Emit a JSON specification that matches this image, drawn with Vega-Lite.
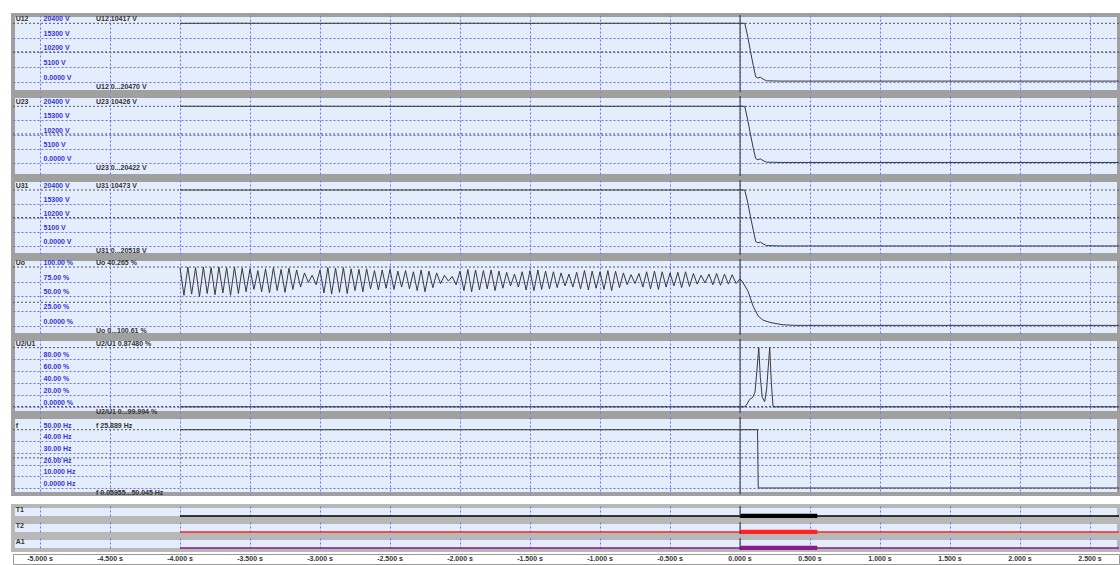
{
  "$schema": "https://vega.github.io/schema/vega-lite/v6.json",
  "background": "white",
  "padding": {"left": 10, "top": 12, "right": 0, "bottom": 0},
  "spacing": 4,
  "vconcat": [
    {
      "bounds": "flush",
      "spacing": 4,
      "vconcat": [
        {
          "height": 77, "width": 1106,
          "layer": [
            {"data": {"name": "ln"}, "transform": [{"filter": "datum.p==='U12'"}],
             "mark": {"type": "rule", "color": "#555555", "strokeDash": [2, 2]},
             "encoding": {"y": {"field": "v", "type": "quantitative", "scale": {"domain": [-3600, 23300], "nice": false, "zero": false}, "axis": {"values": [0, 5100, 10200, 15300]}}}},
            {"data": {"name": "tr"}, "transform": [{"filter": "datum.p==='U12'"}],
             "mark": {"type": "line", "color": "#3a3a3a", "strokeWidth": 1, "clip": true},
             "encoding": {"x": {"field": "t", "type": "quantitative", "scale": {"domain": [-5.193, 2.707], "nice": false, "zero": false}, "axis": {"values": [-5, -4.5, -4, -3.5, -3, -2.5, -2, -1.5, -1, -0.5, 0, 0.5, 1, 1.5, 2, 2.5]}},
                          "y": {"field": "v", "type": "quantitative", "scale": {"domain": [-3600, 23300], "nice": false, "zero": false}, "axis": {"values": [0, 5100, 10200, 15300]}}}},
            {"data": {"name": "cur"}, "mark": {"type": "rule", "color": "#333333"},
             "encoding": {"x": {"field": "t", "type": "quantitative", "scale": {"domain": [-5.193, 2.707], "nice": false, "zero": false}, "axis": {"values": [-5, -4.5, -4, -3.5, -3, -2.5, -2, -1.5, -1, -0.5, 0, 0.5, 1, 1.5, 2, 2.5]}}}},
            {"data": {"name": "lab"}, "transform": [{"filter": "datum.p==='U12' && datum.k!=='rng'"}],
             "mark": {"type": "text", "align": "left", "baseline": "bottom", "dy": -1},
             "encoding": {"x": {"field": "t", "type": "quantitative", "scale": {"domain": [-5.193, 2.707], "nice": false, "zero": false}, "axis": {"values": [-5, -4.5, -4, -3.5, -3, -2.5, -2, -1.5, -1, -0.5, 0, 0.5, 1, 1.5, 2, 2.5]}},
                          "y": {"field": "v", "type": "quantitative", "scale": {"domain": [-3600, 23300], "nice": false, "zero": false}, "axis": {"values": [0, 5100, 10200, 15300]}},
                          "text": {"field": "s"},
                          "color": {"field": "k", "type": "nominal", "scale": {"domain": ["name", "tick", "info", "rng"], "range": ["#333333", "#3535d5", "#333333", "#333333"]}, "legend": null}}},
            {"data": {"name": "lab"}, "transform": [{"filter": "datum.p==='U12' && datum.k==='rng'"}],
             "mark": {"type": "text", "align": "left", "baseline": "top", "dy": 1, "color": "#333333"},
             "encoding": {"x": {"field": "t", "type": "quantitative", "scale": {"domain": [-5.193, 2.707], "nice": false, "zero": false}, "axis": {"values": [-5, -4.5, -4, -3.5, -3, -2.5, -2, -1.5, -1, -0.5, 0, 0.5, 1, 1.5, 2, 2.5]}},
                          "y": {"field": "v", "type": "quantitative", "scale": {"domain": [-3600, 23300], "nice": false, "zero": false}, "axis": {"values": [0, 5100, 10200, 15300]}},
                          "text": {"field": "s"}}}
          ]
        },
        {
          "height": 80, "width": 1106,
          "layer": [
            {"data": {"name": "ln"}, "transform": [{"filter": "datum.p==='U23'"}],
             "mark": {"type": "rule", "color": "#555555", "strokeDash": [2, 2]},
             "encoding": {"y": {"field": "v", "type": "quantitative", "scale": {"domain": [-4677, 24106], "nice": false, "zero": false}, "axis": {"values": [0, 5100, 10200, 15300]}}}},
            {"data": {"name": "tr"}, "transform": [{"filter": "datum.p==='U23'"}],
             "mark": {"type": "line", "color": "#3a3a3a", "strokeWidth": 1, "clip": true},
             "encoding": {"x": {"field": "t", "type": "quantitative", "scale": {"domain": [-5.193, 2.707], "nice": false, "zero": false}, "axis": {"values": [-5, -4.5, -4, -3.5, -3, -2.5, -2, -1.5, -1, -0.5, 0, 0.5, 1, 1.5, 2, 2.5]}},
                          "y": {"field": "v", "type": "quantitative", "scale": {"domain": [-4677, 24106], "nice": false, "zero": false}, "axis": {"values": [0, 5100, 10200, 15300]}}}},
            {"data": {"name": "cur"}, "mark": {"type": "rule", "color": "#333333"},
             "encoding": {"x": {"field": "t", "type": "quantitative", "scale": {"domain": [-5.193, 2.707], "nice": false, "zero": false}, "axis": {"values": [-5, -4.5, -4, -3.5, -3, -2.5, -2, -1.5, -1, -0.5, 0, 0.5, 1, 1.5, 2, 2.5]}}}},
            {"data": {"name": "lab"}, "transform": [{"filter": "datum.p==='U23' && datum.k!=='rng'"}],
             "mark": {"type": "text", "align": "left", "baseline": "bottom", "dy": -1},
             "encoding": {"x": {"field": "t", "type": "quantitative", "scale": {"domain": [-5.193, 2.707], "nice": false, "zero": false}, "axis": {"values": [-5, -4.5, -4, -3.5, -3, -2.5, -2, -1.5, -1, -0.5, 0, 0.5, 1, 1.5, 2, 2.5]}},
                          "y": {"field": "v", "type": "quantitative", "scale": {"domain": [-4677, 24106], "nice": false, "zero": false}, "axis": {"values": [0, 5100, 10200, 15300]}},
                          "text": {"field": "s"},
                          "color": {"field": "k", "type": "nominal", "scale": {"domain": ["name", "tick", "info", "rng"], "range": ["#333333", "#3535d5", "#333333", "#333333"]}, "legend": null}}},
            {"data": {"name": "lab"}, "transform": [{"filter": "datum.p==='U23' && datum.k==='rng'"}],
             "mark": {"type": "text", "align": "left", "baseline": "top", "dy": 1, "color": "#333333"},
             "encoding": {"x": {"field": "t", "type": "quantitative", "scale": {"domain": [-5.193, 2.707], "nice": false, "zero": false}, "axis": {"values": [-5, -4.5, -4, -3.5, -3, -2.5, -2, -1.5, -1, -0.5, 0, 0.5, 1, 1.5, 2, 2.5]}},
                          "y": {"field": "v", "type": "quantitative", "scale": {"domain": [-4677, 24106], "nice": false, "zero": false}, "axis": {"values": [0, 5100, 10200, 15300]}},
                          "text": {"field": "s"}}}
          ]
        },
        {
          "height": 75, "width": 1106,
          "layer": [
            {"data": {"name": "ln"}, "transform": [{"filter": "datum.p==='U31'"}],
             "mark": {"type": "rule", "color": "#555555", "strokeDash": [2, 2]},
             "encoding": {"y": {"field": "v", "type": "quantitative", "scale": {"domain": [-3069, 24010], "nice": false, "zero": false}, "axis": {"values": [0, 5100, 10200, 15300]}}}},
            {"data": {"name": "tr"}, "transform": [{"filter": "datum.p==='U31'"}],
             "mark": {"type": "line", "color": "#3a3a3a", "strokeWidth": 1, "clip": true},
             "encoding": {"x": {"field": "t", "type": "quantitative", "scale": {"domain": [-5.193, 2.707], "nice": false, "zero": false}, "axis": {"values": [-5, -4.5, -4, -3.5, -3, -2.5, -2, -1.5, -1, -0.5, 0, 0.5, 1, 1.5, 2, 2.5]}},
                          "y": {"field": "v", "type": "quantitative", "scale": {"domain": [-3069, 24010], "nice": false, "zero": false}, "axis": {"values": [0, 5100, 10200, 15300]}}}},
            {"data": {"name": "cur"}, "mark": {"type": "rule", "color": "#333333"},
             "encoding": {"x": {"field": "t", "type": "quantitative", "scale": {"domain": [-5.193, 2.707], "nice": false, "zero": false}, "axis": {"values": [-5, -4.5, -4, -3.5, -3, -2.5, -2, -1.5, -1, -0.5, 0, 0.5, 1, 1.5, 2, 2.5]}}}},
            {"data": {"name": "lab"}, "transform": [{"filter": "datum.p==='U31' && datum.k!=='rng'"}],
             "mark": {"type": "text", "align": "left", "baseline": "bottom", "dy": -1},
             "encoding": {"x": {"field": "t", "type": "quantitative", "scale": {"domain": [-5.193, 2.707], "nice": false, "zero": false}, "axis": {"values": [-5, -4.5, -4, -3.5, -3, -2.5, -2, -1.5, -1, -0.5, 0, 0.5, 1, 1.5, 2, 2.5]}},
                          "y": {"field": "v", "type": "quantitative", "scale": {"domain": [-3069, 24010], "nice": false, "zero": false}, "axis": {"values": [0, 5100, 10200, 15300]}},
                          "text": {"field": "s"},
                          "color": {"field": "k", "type": "nominal", "scale": {"domain": ["name", "tick", "info", "rng"], "range": ["#333333", "#3535d5", "#333333", "#333333"]}, "legend": null}}},
            {"data": {"name": "lab"}, "transform": [{"filter": "datum.p==='U31' && datum.k==='rng'"}],
             "mark": {"type": "text", "align": "left", "baseline": "top", "dy": 1, "color": "#333333"},
             "encoding": {"x": {"field": "t", "type": "quantitative", "scale": {"domain": [-5.193, 2.707], "nice": false, "zero": false}, "axis": {"values": [-5, -4.5, -4, -3.5, -3, -2.5, -2, -1.5, -1, -0.5, 0, 0.5, 1, 1.5, 2, 2.5]}},
                          "y": {"field": "v", "type": "quantitative", "scale": {"domain": [-3069, 24010], "nice": false, "zero": false}, "axis": {"values": [0, 5100, 10200, 15300]}},
                          "text": {"field": "s"}}}
          ]
        },
        {
          "height": 76, "width": 1106,
          "layer": [
            {"data": {"name": "ln"}, "transform": [{"filter": "datum.p==='Uo'"}],
             "mark": {"type": "rule", "color": "#555555", "strokeDash": [2, 2]},
             "encoding": {"y": {"field": "v", "type": "quantitative", "scale": {"domain": [-15.3, 113.6], "nice": false, "zero": false}, "axis": {"values": [0, 25, 50, 75]}}}},
            {"data": {"name": "tr"}, "transform": [{"filter": "datum.p==='Uo'"}],
             "mark": {"type": "line", "color": "#3a3a3a", "strokeWidth": 1, "clip": true},
             "encoding": {"x": {"field": "t", "type": "quantitative", "scale": {"domain": [-5.193, 2.707], "nice": false, "zero": false}, "axis": {"values": [-5, -4.5, -4, -3.5, -3, -2.5, -2, -1.5, -1, -0.5, 0, 0.5, 1, 1.5, 2, 2.5]}},
                          "y": {"field": "v", "type": "quantitative", "scale": {"domain": [-15.3, 113.6], "nice": false, "zero": false}, "axis": {"values": [0, 25, 50, 75]}}}},
            {"data": {"name": "cur"}, "mark": {"type": "rule", "color": "#333333"},
             "encoding": {"x": {"field": "t", "type": "quantitative", "scale": {"domain": [-5.193, 2.707], "nice": false, "zero": false}, "axis": {"values": [-5, -4.5, -4, -3.5, -3, -2.5, -2, -1.5, -1, -0.5, 0, 0.5, 1, 1.5, 2, 2.5]}}}},
            {"data": {"name": "lab"}, "transform": [{"filter": "datum.p==='Uo' && datum.k!=='rng'"}],
             "mark": {"type": "text", "align": "left", "baseline": "bottom", "dy": -1},
             "encoding": {"x": {"field": "t", "type": "quantitative", "scale": {"domain": [-5.193, 2.707], "nice": false, "zero": false}, "axis": {"values": [-5, -4.5, -4, -3.5, -3, -2.5, -2, -1.5, -1, -0.5, 0, 0.5, 1, 1.5, 2, 2.5]}},
                          "y": {"field": "v", "type": "quantitative", "scale": {"domain": [-15.3, 113.6], "nice": false, "zero": false}, "axis": {"values": [0, 25, 50, 75]}},
                          "text": {"field": "s"},
                          "color": {"field": "k", "type": "nominal", "scale": {"domain": ["name", "tick", "info", "rng"], "range": ["#333333", "#3535d5", "#333333", "#333333"]}, "legend": null}}},
            {"data": {"name": "lab"}, "transform": [{"filter": "datum.p==='Uo' && datum.k==='rng'"}],
             "mark": {"type": "text", "align": "left", "baseline": "top", "dy": 1, "color": "#333333"},
             "encoding": {"x": {"field": "t", "type": "quantitative", "scale": {"domain": [-5.193, 2.707], "nice": false, "zero": false}, "axis": {"values": [-5, -4.5, -4, -3.5, -3, -2.5, -2, -1.5, -1, -0.5, 0, 0.5, 1, 1.5, 2, 2.5]}},
                          "y": {"field": "v", "type": "quantitative", "scale": {"domain": [-15.3, 113.6], "nice": false, "zero": false}, "axis": {"values": [0, 25, 50, 75]}},
                          "text": {"field": "s"}}}
          ]
        },
        {
          "height": 74, "width": 1106,
          "layer": [
            {"data": {"name": "ln"}, "transform": [{"filter": "datum.p==='U2/U1'"}],
             "mark": {"type": "rule", "color": "#555555", "strokeDash": [2, 2]},
             "encoding": {"y": {"field": "v", "type": "quantitative", "scale": {"domain": [-10.1, 114.5], "nice": false, "zero": false}, "axis": {"values": [0, 20, 40, 60, 80]}}}},
            {"data": {"name": "tr"}, "transform": [{"filter": "datum.p==='U2/U1'"}],
             "mark": {"type": "line", "color": "#3a3a3a", "strokeWidth": 1, "clip": true},
             "encoding": {"x": {"field": "t", "type": "quantitative", "scale": {"domain": [-5.193, 2.707], "nice": false, "zero": false}, "axis": {"values": [-5, -4.5, -4, -3.5, -3, -2.5, -2, -1.5, -1, -0.5, 0, 0.5, 1, 1.5, 2, 2.5]}},
                          "y": {"field": "v", "type": "quantitative", "scale": {"domain": [-10.1, 114.5], "nice": false, "zero": false}, "axis": {"values": [0, 20, 40, 60, 80]}}}},
            {"data": {"name": "cur"}, "mark": {"type": "rule", "color": "#333333"},
             "encoding": {"x": {"field": "t", "type": "quantitative", "scale": {"domain": [-5.193, 2.707], "nice": false, "zero": false}, "axis": {"values": [-5, -4.5, -4, -3.5, -3, -2.5, -2, -1.5, -1, -0.5, 0, 0.5, 1, 1.5, 2, 2.5]}}}},
            {"data": {"name": "lab"}, "transform": [{"filter": "datum.p==='U2/U1' && datum.k!=='rng'"}],
             "mark": {"type": "text", "align": "left", "baseline": "bottom", "dy": -1},
             "encoding": {"x": {"field": "t", "type": "quantitative", "scale": {"domain": [-5.193, 2.707], "nice": false, "zero": false}, "axis": {"values": [-5, -4.5, -4, -3.5, -3, -2.5, -2, -1.5, -1, -0.5, 0, 0.5, 1, 1.5, 2, 2.5]}},
                          "y": {"field": "v", "type": "quantitative", "scale": {"domain": [-10.1, 114.5], "nice": false, "zero": false}, "axis": {"values": [0, 20, 40, 60, 80]}},
                          "text": {"field": "s"},
                          "color": {"field": "k", "type": "nominal", "scale": {"domain": ["name", "tick", "info", "rng"], "range": ["#333333", "#3535d5", "#333333", "#333333"]}, "legend": null}}},
            {"data": {"name": "lab"}, "transform": [{"filter": "datum.p==='U2/U1' && datum.k==='rng'"}],
             "mark": {"type": "text", "align": "left", "baseline": "top", "dy": 1, "color": "#333333"},
             "encoding": {"x": {"field": "t", "type": "quantitative", "scale": {"domain": [-5.193, 2.707], "nice": false, "zero": false}, "axis": {"values": [-5, -4.5, -4, -3.5, -3, -2.5, -2, -1.5, -1, -0.5, 0, 0.5, 1, 1.5, 2, 2.5]}},
                          "y": {"field": "v", "type": "quantitative", "scale": {"domain": [-10.1, 114.5], "nice": false, "zero": false}, "axis": {"values": [0, 20, 40, 60, 80]}},
                          "text": {"field": "s"}}}
          ]
        },
        {
          "height": 77, "width": 1106,
          "layer": [
            {"data": {"name": "ln"}, "transform": [{"filter": "datum.p==='f'"}],
             "mark": {"type": "rule", "color": "#555555", "strokeDash": [2, 2]},
             "encoding": {"y": {"field": "v", "type": "quantitative", "scale": {"domain": [-5.1, 60.9], "nice": false, "zero": false}, "axis": {"values": [0, 10, 20, 30, 40]}}}},
            {"data": {"name": "tr"}, "transform": [{"filter": "datum.p==='f'"}],
             "mark": {"type": "line", "color": "#3a3a3a", "strokeWidth": 1, "clip": true},
             "encoding": {"x": {"field": "t", "type": "quantitative", "scale": {"domain": [-5.193, 2.707], "nice": false, "zero": false}, "axis": {"values": [-5, -4.5, -4, -3.5, -3, -2.5, -2, -1.5, -1, -0.5, 0, 0.5, 1, 1.5, 2, 2.5]}},
                          "y": {"field": "v", "type": "quantitative", "scale": {"domain": [-5.1, 60.9], "nice": false, "zero": false}, "axis": {"values": [0, 10, 20, 30, 40]}}}},
            {"data": {"name": "cur"}, "mark": {"type": "rule", "color": "#333333"},
             "encoding": {"x": {"field": "t", "type": "quantitative", "scale": {"domain": [-5.193, 2.707], "nice": false, "zero": false}, "axis": {"values": [-5, -4.5, -4, -3.5, -3, -2.5, -2, -1.5, -1, -0.5, 0, 0.5, 1, 1.5, 2, 2.5]}}}},
            {"data": {"name": "lab"}, "transform": [{"filter": "datum.p==='f' && datum.k!=='rng'"}],
             "mark": {"type": "text", "align": "left", "baseline": "bottom", "dy": -1},
             "encoding": {"x": {"field": "t", "type": "quantitative", "scale": {"domain": [-5.193, 2.707], "nice": false, "zero": false}, "axis": {"values": [-5, -4.5, -4, -3.5, -3, -2.5, -2, -1.5, -1, -0.5, 0, 0.5, 1, 1.5, 2, 2.5]}},
                          "y": {"field": "v", "type": "quantitative", "scale": {"domain": [-5.1, 60.9], "nice": false, "zero": false}, "axis": {"values": [0, 10, 20, 30, 40]}},
                          "text": {"field": "s"},
                          "color": {"field": "k", "type": "nominal", "scale": {"domain": ["name", "tick", "info", "rng"], "range": ["#333333", "#3535d5", "#333333", "#333333"]}, "legend": null}}},
            {"data": {"name": "lab"}, "transform": [{"filter": "datum.p==='f' && datum.k==='rng'"}],
             "mark": {"type": "text", "align": "left", "baseline": "top", "dy": 1, "color": "#333333"},
             "encoding": {"x": {"field": "t", "type": "quantitative", "scale": {"domain": [-5.193, 2.707], "nice": false, "zero": false}, "axis": {"values": [-5, -4.5, -4, -3.5, -3, -2.5, -2, -1.5, -1, -0.5, 0, 0.5, 1, 1.5, 2, 2.5]}},
                          "y": {"field": "v", "type": "quantitative", "scale": {"domain": [-5.1, 60.9], "nice": false, "zero": false}, "axis": {"values": [0, 10, 20, 30, 40]}},
                          "text": {"field": "s"}}}
          ]
        }
      ]
    },
    {
      "bounds": "flush",
      "spacing": 4,
      "vconcat": [
        {
          "height": 12, "width": 1106,
          "view": {"stroke": "#b8b8b8", "strokeWidth": 4, "fill": "#e4edfb"},
          "layer": [
            {"data": {"name": "dig"}, "transform": [{"filter": "datum.p==='T1'"}],
             "mark": {"type": "rule", "color": "#000000", "clip": true},
             "encoding": {"x": {"field": "t0", "type": "quantitative", "scale": {"domain": [-5.193, 2.707], "nice": false, "zero": false}, "axis": {"values": [-5, -4.5, -4, -3.5, -3, -2.5, -2, -1.5, -1, -0.5, 0, 0.5, 1, 1.5, 2, 2.5]}},
                          "x2": {"field": "t1"},
                          "y": {"datum": 0, "type": "quantitative", "scale": {"domain": [-0.2, 1], "nice": false, "zero": false}, "axis": null},
                          "strokeWidth": {"field": "kind", "type": "nominal", "scale": {"domain": ["base", "on"], "range": [1.3, 4.5]}, "legend": null}}},
            {"data": {"name": "cur"}, "mark": {"type": "rule", "color": "#333333"},
             "encoding": {"x": {"field": "t", "type": "quantitative", "scale": {"domain": [-5.193, 2.707], "nice": false, "zero": false}, "axis": {"values": [-5, -4.5, -4, -3.5, -3, -2.5, -2, -1.5, -1, -0.5, 0, 0.5, 1, 1.5, 2, 2.5]}}}},
            {"data": {"name": "lab"}, "transform": [{"filter": "datum.p==='T1'"}],
             "mark": {"type": "text", "align": "left", "baseline": "middle", "color": "#333333"},
             "encoding": {"x": {"field": "t", "type": "quantitative", "scale": {"domain": [-5.193, 2.707], "nice": false, "zero": false}, "axis": {"values": [-5, -4.5, -4, -3.5, -3, -2.5, -2, -1.5, -1, -0.5, 0, 0.5, 1, 1.5, 2, 2.5]}},
                          "y": {"field": "v", "type": "quantitative", "scale": {"domain": [-0.2, 1], "nice": false, "zero": false}, "axis": null},
                          "text": {"field": "s"}}}
          ]
        },
        {
          "height": 12, "width": 1106,
          "view": {"stroke": "#b8b8b8", "strokeWidth": 4, "fill": "#e4edfb"},
          "layer": [
            {"data": {"name": "dig"}, "transform": [{"filter": "datum.p==='T2'"}],
             "mark": {"type": "rule", "color": "#ff2222", "clip": true},
             "encoding": {"x": {"field": "t0", "type": "quantitative", "scale": {"domain": [-5.193, 2.707], "nice": false, "zero": false}, "axis": {"values": [-5, -4.5, -4, -3.5, -3, -2.5, -2, -1.5, -1, -0.5, 0, 0.5, 1, 1.5, 2, 2.5]}},
                          "x2": {"field": "t1"},
                          "y": {"datum": 0, "type": "quantitative", "scale": {"domain": [-0.2, 1], "nice": false, "zero": false}, "axis": null},
                          "strokeWidth": {"field": "kind", "type": "nominal", "scale": {"domain": ["base", "on"], "range": [1.6, 4.5]}, "legend": null}}},
            {"data": {"name": "cur"}, "mark": {"type": "rule", "color": "#333333"},
             "encoding": {"x": {"field": "t", "type": "quantitative", "scale": {"domain": [-5.193, 2.707], "nice": false, "zero": false}, "axis": {"values": [-5, -4.5, -4, -3.5, -3, -2.5, -2, -1.5, -1, -0.5, 0, 0.5, 1, 1.5, 2, 2.5]}}}},
            {"data": {"name": "lab"}, "transform": [{"filter": "datum.p==='T2'"}],
             "mark": {"type": "text", "align": "left", "baseline": "middle", "color": "#333333"},
             "encoding": {"x": {"field": "t", "type": "quantitative", "scale": {"domain": [-5.193, 2.707], "nice": false, "zero": false}, "axis": {"values": [-5, -4.5, -4, -3.5, -3, -2.5, -2, -1.5, -1, -0.5, 0, 0.5, 1, 1.5, 2, 2.5]}},
                          "y": {"field": "v", "type": "quantitative", "scale": {"domain": [-0.2, 1], "nice": false, "zero": false}, "axis": null},
                          "text": {"field": "s"}}}
          ]
        },
        {
          "height": 12, "width": 1106,
          "view": {"stroke": "#b8b8b8", "strokeWidth": 4, "fill": "#e4edfb"},
          "layer": [
            {"data": {"name": "dig"}, "transform": [{"filter": "datum.p==='A1'"}],
             "mark": {"type": "rule", "color": "#8b1a8b", "clip": true},
             "encoding": {"x": {"field": "t0", "type": "quantitative", "scale": {"domain": [-5.193, 2.707], "nice": false, "zero": false}, "axis": {"values": [-5, -4.5, -4, -3.5, -3, -2.5, -2, -1.5, -1, -0.5, 0, 0.5, 1, 1.5, 2, 2.5]}},
                          "x2": {"field": "t1"},
                          "y": {"datum": 0, "type": "quantitative", "scale": {"domain": [-0.2, 1], "nice": false, "zero": false}, "axis": null},
                          "strokeWidth": {"field": "kind", "type": "nominal", "scale": {"domain": ["base", "on"], "range": [2.5, 4.5]}, "legend": null}}},
            {"data": {"name": "cur"}, "mark": {"type": "rule", "color": "#333333"},
             "encoding": {"x": {"field": "t", "type": "quantitative", "scale": {"domain": [-5.193, 2.707], "nice": false, "zero": false}, "axis": {"values": [-5, -4.5, -4, -3.5, -3, -2.5, -2, -1.5, -1, -0.5, 0, 0.5, 1, 1.5, 2, 2.5]}}}},
            {"data": {"name": "lab"}, "transform": [{"filter": "datum.p==='A1'"}],
             "mark": {"type": "text", "align": "left", "baseline": "middle", "color": "#333333"},
             "encoding": {"x": {"field": "t", "type": "quantitative", "scale": {"domain": [-5.193, 2.707], "nice": false, "zero": false}, "axis": {"values": [-5, -4.5, -4, -3.5, -3, -2.5, -2, -1.5, -1, -0.5, 0, 0.5, 1, 1.5, 2, 2.5]}},
                          "y": {"field": "v", "type": "quantitative", "scale": {"domain": [-0.2, 1], "nice": false, "zero": false}, "axis": null},
                          "text": {"field": "s"}}}
          ]
        },
        {
          "height": 10, "width": 1106,
          "view": {"stroke": "#9a9a9a", "strokeWidth": 1, "fill": "#ffffff"},
          "data": {"name": "xl"},
          "mark": {"type": "text", "align": "center", "baseline": "middle", "color": "#333333"},
          "encoding": {"x": {"field": "t", "type": "quantitative", "scale": {"domain": [-5.193, 2.707], "nice": false, "zero": false}, "axis": null},
                       "text": {"field": "s"}}
        }
      ]
    }
  ],
  "datasets": {
    "cur": [{"t": 0}],
    "ln": [
      {"p": "U12", "v": 20400}, {"p": "U12", "v": 10417},
      {"p": "U23", "v": 20400}, {"p": "U23", "v": 10426},
      {"p": "U31", "v": 20400}, {"p": "U31", "v": 10473},
      {"p": "Uo", "v": 100}, {"p": "Uo", "v": 40.265},
      {"p": "U2/U1", "v": 100}, {"p": "U2/U1", "v": 0.8748},
      {"p": "f", "v": 50}, {"p": "f", "v": 25.889}
    ],
    "lab": [
      {"p": "U12", "k": "name", "t": -5.174, "v": 20400, "s": "U12"},
      {"p": "U12", "k": "tick", "t": -4.975, "v": 20400, "s": "20400 V"},
      {"p": "U12", "k": "tick", "t": -4.975, "v": 15300, "s": "15300 V"},
      {"p": "U12", "k": "tick", "t": -4.975, "v": 10200, "s": "10200 V"},
      {"p": "U12", "k": "tick", "t": -4.975, "v": 5100, "s": "5100 V"},
      {"p": "U12", "k": "tick", "t": -4.975, "v": 0, "s": "0.0000 V"},
      {"p": "U12", "k": "info", "t": -4.6, "v": 20400, "s": "U12 10417 V"},
      {"p": "U12", "k": "rng", "t": -4.6, "v": 0, "s": "U12 0...20470 V"},
      {"p": "U23", "k": "name", "t": -5.174, "v": 20400, "s": "U23"},
      {"p": "U23", "k": "tick", "t": -4.975, "v": 20400, "s": "20400 V"},
      {"p": "U23", "k": "tick", "t": -4.975, "v": 15300, "s": "15300 V"},
      {"p": "U23", "k": "tick", "t": -4.975, "v": 10200, "s": "10200 V"},
      {"p": "U23", "k": "tick", "t": -4.975, "v": 5100, "s": "5100 V"},
      {"p": "U23", "k": "tick", "t": -4.975, "v": 0, "s": "0.0000 V"},
      {"p": "U23", "k": "info", "t": -4.6, "v": 20400, "s": "U23 10426 V"},
      {"p": "U23", "k": "rng", "t": -4.6, "v": 0, "s": "U23 0...20422 V"},
      {"p": "U31", "k": "name", "t": -5.174, "v": 20400, "s": "U31"},
      {"p": "U31", "k": "tick", "t": -4.975, "v": 20400, "s": "20400 V"},
      {"p": "U31", "k": "tick", "t": -4.975, "v": 15300, "s": "15300 V"},
      {"p": "U31", "k": "tick", "t": -4.975, "v": 10200, "s": "10200 V"},
      {"p": "U31", "k": "tick", "t": -4.975, "v": 5100, "s": "5100 V"},
      {"p": "U31", "k": "tick", "t": -4.975, "v": 0, "s": "0.0000 V"},
      {"p": "U31", "k": "info", "t": -4.6, "v": 20400, "s": "U31 10473 V"},
      {"p": "U31", "k": "rng", "t": -4.6, "v": 0, "s": "U31 0...20518 V"},
      {"p": "Uo", "k": "name", "t": -5.174, "v": 100, "s": "Uo"},
      {"p": "Uo", "k": "tick", "t": -4.975, "v": 100, "s": "100.00 %"},
      {"p": "Uo", "k": "tick", "t": -4.975, "v": 75, "s": "75.00 %"},
      {"p": "Uo", "k": "tick", "t": -4.975, "v": 50, "s": "50.00 %"},
      {"p": "Uo", "k": "tick", "t": -4.975, "v": 25, "s": "25.00 %"},
      {"p": "Uo", "k": "tick", "t": -4.975, "v": 0, "s": "0.0000 %"},
      {"p": "Uo", "k": "info", "t": -4.6, "v": 100, "s": "Uo 40.265 %"},
      {"p": "Uo", "k": "rng", "t": -4.6, "v": 0, "s": "Uo 0...100.61 %"},
      {"p": "U2/U1", "k": "name", "t": -5.174, "v": 100, "s": "U2/U1"},
      {"p": "U2/U1", "k": "tick", "t": -4.975, "v": 80, "s": "80.00 %"},
      {"p": "U2/U1", "k": "tick", "t": -4.975, "v": 60, "s": "60.00 %"},
      {"p": "U2/U1", "k": "tick", "t": -4.975, "v": 40, "s": "40.00 %"},
      {"p": "U2/U1", "k": "tick", "t": -4.975, "v": 20, "s": "20.00 %"},
      {"p": "U2/U1", "k": "tick", "t": -4.975, "v": 0, "s": "0.0000 %"},
      {"p": "U2/U1", "k": "info", "t": -4.6, "v": 100, "s": "U2/U1 0.87480 %"},
      {"p": "U2/U1", "k": "rng", "t": -4.6, "v": 0, "s": "U2/U1 0...99.994 %"},
      {"p": "f", "k": "name", "t": -5.174, "v": 50, "s": "f"},
      {"p": "f", "k": "tick", "t": -4.975, "v": 50, "s": "50.00 Hz"},
      {"p": "f", "k": "tick", "t": -4.975, "v": 40, "s": "40.00 Hz"},
      {"p": "f", "k": "tick", "t": -4.975, "v": 30, "s": "30.00 Hz"},
      {"p": "f", "k": "tick", "t": -4.975, "v": 20, "s": "20.00 Hz"},
      {"p": "f", "k": "tick", "t": -4.975, "v": 10, "s": "10.000 Hz"},
      {"p": "f", "k": "tick", "t": -4.975, "v": 0, "s": "0.0000 Hz"},
      {"p": "f", "k": "info", "t": -4.6, "v": 50, "s": "f 25.889 Hz"},
      {"p": "f", "k": "rng", "t": -4.6, "v": 0, "s": "f 0.05955...50.045 Hz"},
      {"p": "T1", "k": "name", "t": -5.174, "v": 0.6, "s": "T1"},
      {"p": "T2", "k": "name", "t": -5.174, "v": 0.6, "s": "T2"},
      {"p": "A1", "k": "name", "t": -5.174, "v": 0.6, "s": "A1"}
    ],
    "dig": [
      {"p": "T1", "kind": "base", "t0": -4.0, "t1": 2.75},
      {"p": "T1", "kind": "on", "t0": 0.0, "t1": 0.552},
      {"p": "T2", "kind": "base", "t0": -4.0, "t1": 2.75},
      {"p": "T2", "kind": "on", "t0": 0.0, "t1": 0.552},
      {"p": "A1", "kind": "base", "t0": -4.0, "t1": 2.75},
      {"p": "A1", "kind": "on", "t0": 0.0, "t1": 0.552}
    ],
    "xl": [
      {"t": -5, "s": "-5.000 s"}, {"t": -4.5, "s": "-4.500 s"}, {"t": -4, "s": "-4.000 s"}, {"t": -3.5, "s": "-3.500 s"},
      {"t": -3, "s": "-3.000 s"}, {"t": -2.5, "s": "-2.500 s"}, {"t": -2, "s": "-2.000 s"}, {"t": -1.5, "s": "-1.500 s"},
      {"t": -1, "s": "-1.000 s"}, {"t": -0.5, "s": "-0.500 s"}, {"t": 0, "s": "0.000 s"}, {"t": 0.5, "s": "0.500 s"},
      {"t": 1, "s": "1.000 s"}, {"t": 1.5, "s": "1.500 s"}, {"t": 2, "s": "2.000 s"}, {"t": 2.5, "s": "2.500 s"}
    ],
    "tr": [
      {"p": "U12", "t": -4.0, "v": 20390}, {"p": "U12", "t": -3.6, "v": 20420}, {"p": "U12", "t": -3.2, "v": 20380}, {"p": "U12", "t": -2.8, "v": 20410},
      {"p": "U12", "t": -2.4, "v": 20400}, {"p": "U12", "t": -2.0, "v": 20420}, {"p": "U12", "t": -1.6, "v": 20390}, {"p": "U12", "t": -1.2, "v": 20410},
      {"p": "U12", "t": -0.8, "v": 20400}, {"p": "U12", "t": -0.4, "v": 20415}, {"p": "U12", "t": 0.0, "v": 20410}, {"p": "U12", "t": 0.034, "v": 20400},
      {"p": "U12", "t": 0.055, "v": 15800}, {"p": "U12", "t": 0.075, "v": 10500}, {"p": "U12", "t": 0.095, "v": 5600}, {"p": "U12", "t": 0.112, "v": 1700},
      {"p": "U12", "t": 0.127, "v": 1300}, {"p": "U12", "t": 0.145, "v": 1550}, {"p": "U12", "t": 0.165, "v": 900}, {"p": "U12", "t": 0.19, "v": 300},
      {"p": "U12", "t": 0.3, "v": 200}, {"p": "U12", "t": 2.75, "v": 200},
      {"p": "U23", "t": -4.0, "v": 20410}, {"p": "U23", "t": -3.5, "v": 20390}, {"p": "U23", "t": -3.0, "v": 20420}, {"p": "U23", "t": -2.5, "v": 20400},
      {"p": "U23", "t": -2.0, "v": 20380}, {"p": "U23", "t": -1.5, "v": 20410}, {"p": "U23", "t": -1.0, "v": 20400}, {"p": "U23", "t": -0.5, "v": 20415},
      {"p": "U23", "t": 0.0, "v": 20400}, {"p": "U23", "t": 0.034, "v": 20390}, {"p": "U23", "t": 0.055, "v": 15500}, {"p": "U23", "t": 0.075, "v": 10200},
      {"p": "U23", "t": 0.095, "v": 5300}, {"p": "U23", "t": 0.112, "v": 1600}, {"p": "U23", "t": 0.127, "v": 1200}, {"p": "U23", "t": 0.145, "v": 1500},
      {"p": "U23", "t": 0.165, "v": 850}, {"p": "U23", "t": 0.19, "v": 300}, {"p": "U23", "t": 0.3, "v": 200}, {"p": "U23", "t": 2.75, "v": 200},
      {"p": "U31", "t": -4.0, "v": 20400}, {"p": "U31", "t": -3.5, "v": 20380}, {"p": "U31", "t": -3.0, "v": 20410}, {"p": "U31", "t": -2.5, "v": 20390},
      {"p": "U31", "t": -2.0, "v": 20420}, {"p": "U31", "t": -1.5, "v": 20400}, {"p": "U31", "t": -1.0, "v": 20410}, {"p": "U31", "t": -0.5, "v": 20390},
      {"p": "U31", "t": 0.0, "v": 20410}, {"p": "U31", "t": 0.034, "v": 20400}, {"p": "U31", "t": 0.055, "v": 15900}, {"p": "U31", "t": 0.075, "v": 10700},
      {"p": "U31", "t": 0.095, "v": 5800}, {"p": "U31", "t": 0.112, "v": 1800}, {"p": "U31", "t": 0.127, "v": 1350}, {"p": "U31", "t": 0.145, "v": 1600},
      {"p": "U31", "t": 0.165, "v": 950}, {"p": "U31", "t": 0.19, "v": 320}, {"p": "U31", "t": 0.3, "v": 200}, {"p": "U31", "t": 2.75, "v": 200},
      {"p": "Uo", "t": -4.000, "v": 99}, {"p": "Uo", "t": -3.972, "v": 52}, {"p": "Uo", "t": -3.944, "v": 100}, {"p": "Uo", "t": -3.917, "v": 54},
      {"p": "Uo", "t": -3.889, "v": 99}, {"p": "Uo", "t": -3.861, "v": 50}, {"p": "Uo", "t": -3.833, "v": 100}, {"p": "Uo", "t": -3.806, "v": 55},
      {"p": "Uo", "t": -3.778, "v": 99}, {"p": "Uo", "t": -3.750, "v": 53}, {"p": "Uo", "t": -3.722, "v": 100}, {"p": "Uo", "t": -3.694, "v": 56},
      {"p": "Uo", "t": -3.667, "v": 99}, {"p": "Uo", "t": -3.639, "v": 52}, {"p": "Uo", "t": -3.611, "v": 100}, {"p": "Uo", "t": -3.583, "v": 55},
      {"p": "Uo", "t": -3.556, "v": 98}, {"p": "Uo", "t": -3.528, "v": 58}, {"p": "Uo", "t": -3.500, "v": 97}, {"p": "Uo", "t": -3.472, "v": 62},
      {"p": "Uo", "t": -3.444, "v": 94}, {"p": "Uo", "t": -3.417, "v": 58}, {"p": "Uo", "t": -3.389, "v": 97}, {"p": "Uo", "t": -3.361, "v": 56},
      {"p": "Uo", "t": -3.333, "v": 99}, {"p": "Uo", "t": -3.306, "v": 60}, {"p": "Uo", "t": -3.278, "v": 96}, {"p": "Uo", "t": -3.250, "v": 57},
      {"p": "Uo", "t": -3.222, "v": 98}, {"p": "Uo", "t": -3.194, "v": 62}, {"p": "Uo", "t": -3.167, "v": 95}, {"p": "Uo", "t": -3.139, "v": 66},
      {"p": "Uo", "t": -3.111, "v": 90}, {"p": "Uo", "t": -3.083, "v": 74}, {"p": "Uo", "t": -3.056, "v": 86}, {"p": "Uo", "t": -3.028, "v": 70},
      {"p": "Uo", "t": -3.000, "v": 95}, {"p": "Uo", "t": -2.972, "v": 56}, {"p": "Uo", "t": -2.944, "v": 99}, {"p": "Uo", "t": -2.917, "v": 54},
      {"p": "Uo", "t": -2.889, "v": 98}, {"p": "Uo", "t": -2.861, "v": 57}, {"p": "Uo", "t": -2.833, "v": 99}, {"p": "Uo", "t": -2.806, "v": 55},
      {"p": "Uo", "t": -2.778, "v": 97}, {"p": "Uo", "t": -2.750, "v": 60}, {"p": "Uo", "t": -2.722, "v": 96}, {"p": "Uo", "t": -2.694, "v": 58},
      {"p": "Uo", "t": -2.667, "v": 97}, {"p": "Uo", "t": -2.639, "v": 63}, {"p": "Uo", "t": -2.611, "v": 94}, {"p": "Uo", "t": -2.583, "v": 61},
      {"p": "Uo", "t": -2.556, "v": 95}, {"p": "Uo", "t": -2.528, "v": 64}, {"p": "Uo", "t": -2.500, "v": 96}, {"p": "Uo", "t": -2.472, "v": 62},
      {"p": "Uo", "t": -2.444, "v": 93}, {"p": "Uo", "t": -2.417, "v": 66}, {"p": "Uo", "t": -2.389, "v": 94}, {"p": "Uo", "t": -2.361, "v": 63},
      {"p": "Uo", "t": -2.333, "v": 92}, {"p": "Uo", "t": -2.306, "v": 60}, {"p": "Uo", "t": -2.278, "v": 95}, {"p": "Uo", "t": -2.250, "v": 58},
      {"p": "Uo", "t": -2.222, "v": 93}, {"p": "Uo", "t": -2.194, "v": 65}, {"p": "Uo", "t": -2.167, "v": 90}, {"p": "Uo", "t": -2.139, "v": 72},
      {"p": "Uo", "t": -2.111, "v": 86}, {"p": "Uo", "t": -2.083, "v": 76}, {"p": "Uo", "t": -2.056, "v": 84}, {"p": "Uo", "t": -2.028, "v": 70},
      {"p": "Uo", "t": -2.000, "v": 93}, {"p": "Uo", "t": -1.972, "v": 60}, {"p": "Uo", "t": -1.944, "v": 96}, {"p": "Uo", "t": -1.917, "v": 58},
      {"p": "Uo", "t": -1.889, "v": 95}, {"p": "Uo", "t": -1.861, "v": 61}, {"p": "Uo", "t": -1.833, "v": 94}, {"p": "Uo", "t": -1.806, "v": 63},
      {"p": "Uo", "t": -1.778, "v": 95}, {"p": "Uo", "t": -1.750, "v": 60}, {"p": "Uo", "t": -1.722, "v": 93}, {"p": "Uo", "t": -1.694, "v": 64},
      {"p": "Uo", "t": -1.667, "v": 91}, {"p": "Uo", "t": -1.639, "v": 68}, {"p": "Uo", "t": -1.611, "v": 88}, {"p": "Uo", "t": -1.583, "v": 66},
      {"p": "Uo", "t": -1.556, "v": 92}, {"p": "Uo", "t": -1.528, "v": 61}, {"p": "Uo", "t": -1.500, "v": 94}, {"p": "Uo", "t": -1.472, "v": 60},
      {"p": "Uo", "t": -1.444, "v": 95}, {"p": "Uo", "t": -1.417, "v": 62}, {"p": "Uo", "t": -1.389, "v": 93}, {"p": "Uo", "t": -1.361, "v": 63},
      {"p": "Uo", "t": -1.333, "v": 92}, {"p": "Uo", "t": -1.306, "v": 65}, {"p": "Uo", "t": -1.278, "v": 90}, {"p": "Uo", "t": -1.250, "v": 68},
      {"p": "Uo", "t": -1.222, "v": 88}, {"p": "Uo", "t": -1.194, "v": 66}, {"p": "Uo", "t": -1.167, "v": 91}, {"p": "Uo", "t": -1.139, "v": 63},
      {"p": "Uo", "t": -1.111, "v": 94}, {"p": "Uo", "t": -1.083, "v": 61}, {"p": "Uo", "t": -1.056, "v": 93}, {"p": "Uo", "t": -1.028, "v": 64},
      {"p": "Uo", "t": -1.000, "v": 92}, {"p": "Uo", "t": -0.972, "v": 62}, {"p": "Uo", "t": -0.944, "v": 94}, {"p": "Uo", "t": -0.917, "v": 60},
      {"p": "Uo", "t": -0.889, "v": 93}, {"p": "Uo", "t": -0.861, "v": 65}, {"p": "Uo", "t": -0.833, "v": 90}, {"p": "Uo", "t": -0.806, "v": 70},
      {"p": "Uo", "t": -0.778, "v": 87}, {"p": "Uo", "t": -0.750, "v": 72}, {"p": "Uo", "t": -0.722, "v": 89}, {"p": "Uo", "t": -0.694, "v": 66},
      {"p": "Uo", "t": -0.667, "v": 92}, {"p": "Uo", "t": -0.639, "v": 63}, {"p": "Uo", "t": -0.611, "v": 93}, {"p": "Uo", "t": -0.583, "v": 62},
      {"p": "Uo", "t": -0.556, "v": 92}, {"p": "Uo", "t": -0.528, "v": 66}, {"p": "Uo", "t": -0.500, "v": 90}, {"p": "Uo", "t": -0.472, "v": 68},
      {"p": "Uo", "t": -0.444, "v": 91}, {"p": "Uo", "t": -0.417, "v": 65}, {"p": "Uo", "t": -0.389, "v": 92}, {"p": "Uo", "t": -0.361, "v": 67},
      {"p": "Uo", "t": -0.333, "v": 89}, {"p": "Uo", "t": -0.306, "v": 71}, {"p": "Uo", "t": -0.278, "v": 86}, {"p": "Uo", "t": -0.250, "v": 73},
      {"p": "Uo", "t": -0.222, "v": 88}, {"p": "Uo", "t": -0.194, "v": 70}, {"p": "Uo", "t": -0.167, "v": 89}, {"p": "Uo", "t": -0.139, "v": 69},
      {"p": "Uo", "t": -0.111, "v": 88}, {"p": "Uo", "t": -0.083, "v": 71}, {"p": "Uo", "t": -0.056, "v": 87}, {"p": "Uo", "t": -0.028, "v": 72},
      {"p": "Uo", "t": 0.000, "v": 80}, {"p": "Uo", "t": 0.02, "v": 74}, {"p": "Uo", "t": 0.057, "v": 59}, {"p": "Uo", "t": 0.093, "v": 34},
      {"p": "Uo", "t": 0.129, "v": 17}, {"p": "Uo", "t": 0.164, "v": 10}, {"p": "Uo", "t": 0.2, "v": 7}, {"p": "Uo", "t": 0.236, "v": 5},
      {"p": "Uo", "t": 0.307, "v": 2}, {"p": "Uo", "t": 0.4, "v": 1}, {"p": "Uo", "t": 2.75, "v": 1},
      {"p": "U2/U1", "t": -4.0, "v": 0.3}, {"p": "U2/U1", "t": 0.034, "v": 0.3}, {"p": "U2/U1", "t": 0.05, "v": 5}, {"p": "U2/U1", "t": 0.069, "v": 13},
      {"p": "U2/U1", "t": 0.09, "v": 16}, {"p": "U2/U1", "t": 0.107, "v": 25}, {"p": "U2/U1", "t": 0.12, "v": 60}, {"p": "U2/U1", "t": 0.134, "v": 100},
      {"p": "U2/U1", "t": 0.145, "v": 50}, {"p": "U2/U1", "t": 0.159, "v": 16}, {"p": "U2/U1", "t": 0.176, "v": 9}, {"p": "U2/U1", "t": 0.19, "v": 30},
      {"p": "U2/U1", "t": 0.212, "v": 100}, {"p": "U2/U1", "t": 0.224, "v": 40}, {"p": "U2/U1", "t": 0.236, "v": 0.3}, {"p": "U2/U1", "t": 2.75, "v": 0.3},
      {"p": "f", "t": -4.0, "v": 50.0}, {"p": "f", "t": 0.125, "v": 50.0}, {"p": "f", "t": 0.13, "v": 0.06}, {"p": "f", "t": 2.75, "v": 0.06}
    ]
  },
  "config": {
    "view": {"stroke": "#a0a0a0", "strokeWidth": 4, "fill": "#e4edfb"},
    "axis": {"labels": false, "ticks": false, "domain": false, "title": null, "grid": true, "gridColor": "#6f6ff7", "gridDash": [2, 2], "gridWidth": 1, "gridOpacity": 1},
    "text": {"font": "Liberation Sans", "fontWeight": "bold", "fontSize": 7}
  }
}
